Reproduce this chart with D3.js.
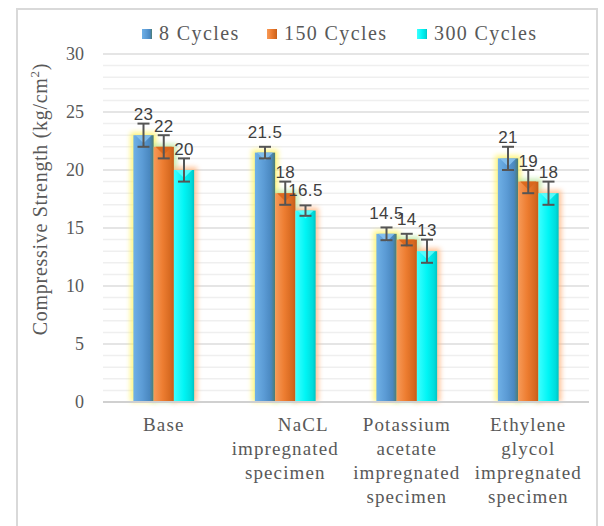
<!DOCTYPE html>
<html><head><meta charset="utf-8">
<script src="https://cdn.jsdelivr.net/npm/d3@7"></script>
<style>
html,body{margin:0;padding:0;background:#fff;}
svg{display:block;}
.serif{font-family:"Liberation Serif","Times New Roman","DejaVu Serif",serif;}
.sans{font-family:"Liberation Sans",Arial,"DejaVu Sans",sans-serif;}
</style></head>
<body>
<svg id="chart" width="604" height="526"></svg>
<script>
const categories = ["Base", "NaCL impregnated specimen", "Potassium acetate impregnated specimen", "Ethylene glycol impregnated specimen"];
const categoryLines = [["Base"], ["NaCL", "impregnated", "specimen"], ["Potassium", "acetate", "impregnated", "specimen"], ["Ethylene", "glycol", "impregnated", "specimen"]];
const seriesNames = ["8 Cycles", "150 Cycles", "300 Cycles"];
const values8 = [23, 21.5, 14.5, 21];
const values150 = [22, 18, 14, 19];
const values300 = [20, 16.5, 13, 18];
const err8 = [1, 0.5, 0.55, 1];
const err150 = [1, 1, 0.5, 1];
const err300 = [1, 0.45, 1, 1];
const yTicks = [0, 5, 10, 15, 20, 25, 30];
const yTitle = "Compressive Strength (kg/cm";

const seriesValues = [values8, values150, values300];
const seriesErr = [err8, err150, err300];

const svg = d3.select("#chart");
const defs = svg.append("defs");

// outer border
svg.append("rect").attr("x", 17).attr("y", 9).attr("width", 580).attr("height", 530)
  .attr("fill", "none").attr("stroke", "#d9d9d9").attr("stroke-width", 2);

const y = d3.scaleLinear().domain([0, 30]).range([402, 54]);
const x0 = d3.scaleBand().domain(categories).range([103, 589]).paddingInner(0.5).paddingOuter(0.25);
const x1 = d3.scaleBand().domain(seriesNames).range([0, x0.bandwidth()]);

// gradients
const gradDefs = [
  {id: "gBlue", stops: [["0%", "#6fb0e6"], ["45%", "#5b9bd5"], ["80%", "#4a88c0"], ["100%", "#4d7d70"]]},
  {id: "gOrange", stops: [["0%", "#f79a58"], ["45%", "#ed7d31"], ["85%", "#d5681f"], ["100%", "#c55d18"]]},
  {id: "gCyan", stops: [["0%", "#3dffff"], ["50%", "#00f5f5"], ["85%", "#00dcdc"], ["100%", "#00c4c4"]]}
];
gradDefs.forEach(g => {
  const lg = defs.append("linearGradient").attr("id", g.id).attr("x1", "0").attr("x2", "1").attr("y1", "0").attr("y2", "0");
  g.stops.forEach(s => lg.append("stop").attr("offset", s[0]).attr("stop-color", s[1]));
});
const blur = defs.append("filter").attr("id", "glow").attr("x", "-50%").attr("y", "-50%").attr("width", "200%").attr("height", "200%");
blur.append("feGaussianBlur").attr("stdDeviation", 2.5);

const fills = ["url(#gBlue)", "url(#gOrange)", "url(#gCyan)"];
const glowColors = ["#fff35a", "#b6e59a", "#ffb27a"];
const topColors = ["#86c1ee", "#d9661c", "#5ffcfc"];

// gridlines
const minor = d3.range(0, 31, 1).filter(v => v % 5 !== 0);
svg.append("g").selectAll("line").data(minor).join("line")
  .attr("x1", 103).attr("x2", 589).attr("y1", d => y(d)).attr("y2", d => y(d))
  .attr("stroke", "#efefef").attr("stroke-width", 1.5);
svg.append("g").selectAll("line").data(yTicks.filter(v => v > 0)).join("line")
  .attr("x1", 103).attr("x2", 589).attr("y1", d => y(d)).attr("y2", d => y(d))
  .attr("stroke", "#dcdcdc").attr("stroke-width", 1.5);

// y tick labels
svg.append("g").selectAll("text").data(yTicks).join("text")
  .attr("class", "serif")
  .attr("x", 84).attr("y", d => y(d) + 6).attr("text-anchor", "end")
  .attr("font-size", 18).attr("fill", "#595959").text(d => d);

// y title
const yt = svg.append("text").attr("class", "serif").attr("transform", "translate(47,199) rotate(-90)")
  .attr("text-anchor", "middle")
  .attr("font-size", 20).attr("letter-spacing", 0.7).attr("fill", "#595959");
yt.append("tspan").text(yTitle);
yt.append("tspan").attr("font-size", 13).attr("dy", -8).text("2");
yt.append("tspan").attr("dy", 8).text(")");

// bars data
const barData = [];
categories.forEach((c, ci) => {
  seriesNames.forEach((s, si) => {
    barData.push({c, s, si, v: seriesValues[si][ci], e: seriesErr[si][ci]});
  });
});
const bx = d => x0(d.c) + x1(d.s);
const bw = x1.bandwidth();

// glows
svg.append("g").selectAll("rect").data(barData).join("rect")
  .attr("x", d => bx(d) - 3).attr("y", d => y(d.v) - 3)
  .attr("width", bw + 6).attr("height", d => y(0) - y(d.v) + 3)
  .attr("fill", d => glowColors[d.si]).attr("opacity", 0.75).attr("filter", "url(#glow)");

// bars
const bars = svg.append("g");
bars.selectAll("rect").data(barData).join("rect")
  .attr("x", d => bx(d)).attr("y", d => y(d.v))
  .attr("width", bw).attr("height", d => y(0) - y(d.v))
  .attr("fill", d => fills[d.si]);
bars.selectAll("path").data(barData).join("path")
  .attr("d", d => {
    const l = bx(d), t = y(d.v);
    return `M${l + 2},${t}L${l + bw - 2},${t}L${l + bw / 2},${t + 8}Z`;
  })
  .attr("fill", d => topColors[d.si]).attr("opacity", 0.9);

// axis baseline
svg.append("line").attr("x1", 103).attr("x2", 589).attr("y1", y(0)).attr("y2", y(0))
  .attr("stroke", "#d0d0d0").attr("stroke-width", 2);

// error bars
const eg = svg.append("g").attr("stroke", "#555").attr("stroke-width", 2);
barData.forEach(d => {
  const cx = bx(d) + bw / 2;
  const t = y(d.v + d.e), b = y(d.v - d.e);
  eg.append("line").attr("x1", cx).attr("x2", cx).attr("y1", t).attr("y2", b);
  eg.append("line").attr("x1", cx - 6).attr("x2", cx + 6).attr("y1", t).attr("y2", t);
  eg.append("line").attr("x1", cx - 6).attr("x2", cx + 6).attr("y1", b).attr("y2", b);
});

// data labels
svg.append("g").selectAll("text").data(barData).join("text")
  .attr("class", "sans")
  .attr("x", d => bx(d) + bw / 2).attr("y", d => y(d.v) - 15)
  .attr("text-anchor", "middle")
  .attr("font-size", 17).attr("letter-spacing", 0.3).attr("fill", "#404040").text(d => d.v);

// category labels
const catShift = [0, 18, 0, 0];
categories.forEach((c, ci) => {
  const t = svg.append("text").attr("class", "serif").attr("text-anchor", "middle")
    .attr("font-size", 19).attr("letter-spacing", 1.1).attr("fill", "#595959");
  categoryLines[ci].forEach((ln, li) => {
    t.append("tspan").attr("x", x0(c) + x0.bandwidth() / 2 + (li === 0 ? catShift[ci] : 0))
      .attr("y", 431 + li * 24).text(ln);
  });
});

// legend
const legX = [142, 267, 417];
seriesNames.forEach((s, si) => {
  svg.append("rect").attr("x", legX[si]).attr("y", 29).attr("width", 10).attr("height", 10)
    .attr("fill", fills[si]);
  svg.append("text").attr("class", "serif").attr("x", legX[si] + 17).attr("y", 40)
    .attr("font-size", 20).attr("letter-spacing", 1.4).attr("fill", "#595959").text(s);
});
</script>
</body></html>
